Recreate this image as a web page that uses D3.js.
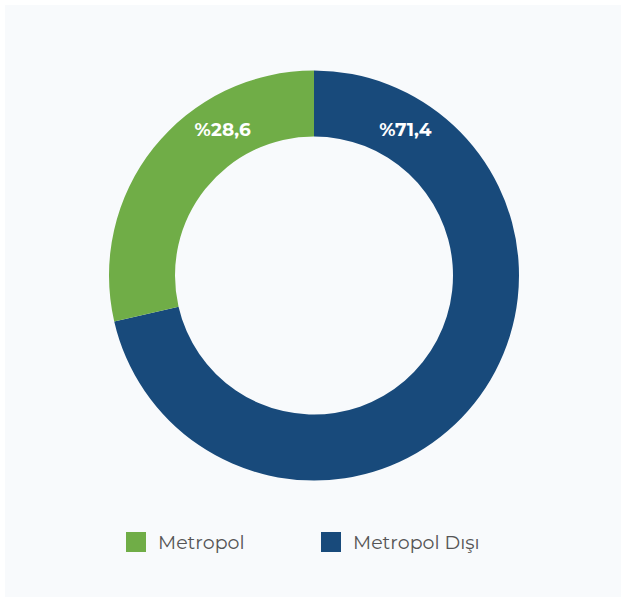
<!DOCTYPE html>
<html>
<head>
<meta charset="utf-8">
<script src="https://cdn.jsdelivr.net/npm/d3@7"></script>
<style>
  html, body { margin: 0; padding: 0; background: #ffffff; }
  svg { display: block; }
</style>
</head>
<body>
<div id="chart"></div>
<script>
// data
const categories = ["Metropol", "Metropol Dışı"];
const shares = [28.6, 71.4];
const colors = ["#70ad47", "#184a7b"];

const width = 621;
const height = 597;
const cx = 314, cy = 275.5;
const outerR = 205, innerR = 139;

const svg = d3.select("#chart").append("svg")
    .attr("width", width)
    .attr("height", height);

svg.append("rect")
    .attr("x", 5).attr("y", 5)
    .attr("width", width - 5).attr("height", height - 5)
    .attr("fill", "#f8fafc");

// blue slice runs clockwise from the top, green closes the ring
const drawOrder = [1, 0];
const pie = d3.pie().sort(null).value(i => shares[i]);
const arcs = pie(drawOrder);

const arc = d3.arc().innerRadius(innerR).outerRadius(outerR);

const g = svg.append("g").attr("transform", `translate(${cx},${cy})`);

g.selectAll("path")
    .data(arcs)
    .enter()
    .append("path")
    .attr("d", arc)
    .attr("fill", d => colors[d.data]);

// labels sit near the top end of each slice, in the middle of the ring
const labelR = (outerR + innerR) / 2;
const offset = 0.56;
const labelAngle = d => d.data === 1 ? d.startAngle + offset : d.endAngle - offset;

g.selectAll("text.lbl")
    .data(arcs)
    .enter()
    .append("text")
    .attr("class", "lbl")
    .attr("x", d => labelR * Math.sin(labelAngle(d)))
    .attr("y", d => -labelR * Math.cos(labelAngle(d)))
    .attr("dy", "0.35em")
    .attr("text-anchor", "middle")
    .attr("fill", "#ffffff")
    .style("font-family", "Montserrat, Inter, 'Open Sans', sans-serif")
    .style("font-weight", 700)
    .style("font-size", "18.5px")
    .text(d => "%" + String(shares[d.data]).replace(".", ","));

// legend
const legendX = d3.scaleOrdinal().domain(categories).range([126, 321]);
const legend = svg.append("g").attr("transform", "translate(0,532)");

const item = legend.selectAll("g")
    .data(categories)
    .enter()
    .append("g")
    .attr("transform", d => `translate(${legendX(d)},0)`);

item.append("rect")
    .attr("width", 20)
    .attr("height", 20)
    .attr("fill", (d, i) => colors[i]);

item.append("text")
    .attr("x", 32)
    .attr("y", 17)
    .attr("fill", "#555555")
    .style("font-family", "Montserrat, Inter, 'Open Sans', sans-serif")
    .style("font-size", "19px")
    .text(d => d);
</script>
</body>
</html>
